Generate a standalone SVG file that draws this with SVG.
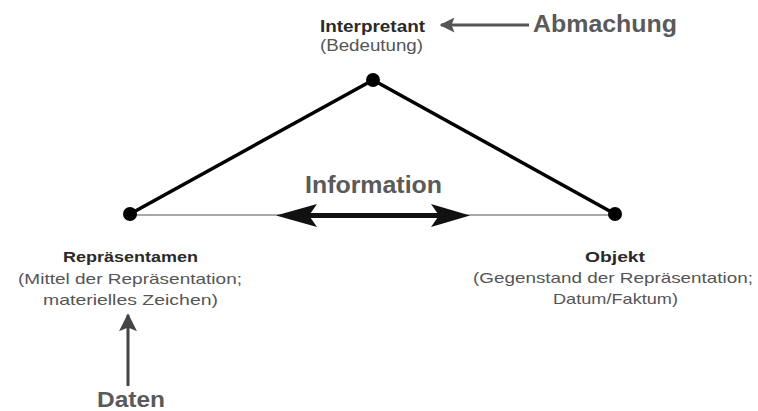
<svg xmlns="http://www.w3.org/2000/svg" width="758" height="411" viewBox="0 0 758 411">
<style>
text{font-family:"Liberation Sans",Arial,sans-serif;text-anchor:middle}
.lbl{font-weight:bold;fill:#2a2a2a}
.sub{fill:#555}
.big{font-weight:bold;fill:#5a5a5a}
.dot{fill:#000}
</style>
<defs>
<marker id="hGrey" viewBox="0 0 10 10" refX="9" refY="5" markerWidth="5" markerHeight="5" orient="auto" markerUnits="strokeWidth">
<path d="M0,0 L10,5 L0,10 L2,5 Z" fill="#555"/>
</marker>
<marker id="hDark" viewBox="0 0 10 10" refX="9" refY="5" markerWidth="6" markerHeight="6" orient="auto" markerUnits="strokeWidth">
<path d="M0,0 L10,5 L0,10 L2,5 Z" fill="#444"/>
</marker>
</defs>
<rect width="758" height="411" fill="#fff"/>
<g id="connectors">
<line x1="130" y1="215" x2="615" y2="215" stroke="#a8a8a8" stroke-width="2"/>
<polyline points="130,214 373,80 615,214" fill="none" stroke="#000" stroke-width="3.5" stroke-linejoin="round"/>
<line x1="305" y1="215.5" x2="440" y2="215.5" stroke="#111" stroke-width="5"/>
<path d="M276,215.5 L317,204 L309,215.5 L317,227 Z" fill="#111"/>
<path d="M470,215.5 L431,204 L439,215.5 L431,227 Z" fill="#111"/>
<line x1="529" y1="25" x2="441" y2="25" stroke="#555" stroke-width="3" marker-end="url(#hGrey)"/>
<line x1="128" y1="386" x2="128" y2="315" stroke="#444" stroke-width="3" marker-end="url(#hDark)"/>
</g>
<g id="interpretant">
<circle class="dot" cx="373" cy="80" r="7"/>
<text class="lbl" x="372.5" y="32" font-size="16" textLength="105" lengthAdjust="spacingAndGlyphs">Interpretant</text>
<text class="sub" x="371.5" y="51" font-size="16" textLength="103" lengthAdjust="spacingAndGlyphs">(Bedeutung)</text>
</g>
<g id="abmachung">
<text class="big" x="605" y="32" font-size="23" textLength="144" lengthAdjust="spacingAndGlyphs">Abmachung</text>
</g>
<g id="information">
<text class="big" x="373.5" y="193" font-size="23" textLength="137" lengthAdjust="spacingAndGlyphs">Information</text>
</g>
<g id="repraesentamen">
<circle class="dot" cx="130" cy="214" r="7"/>
<text class="lbl" x="130.5" y="262" font-size="15" textLength="135" lengthAdjust="spacingAndGlyphs">Repräsentamen</text>
<text class="sub" x="130" y="283.5" font-size="15" textLength="224" lengthAdjust="spacingAndGlyphs">(Mittel der Repräsentation;</text>
<text class="sub" x="130.5" y="305" font-size="15" textLength="175" lengthAdjust="spacingAndGlyphs">materielles Zeichen)</text>
</g>
<g id="objekt">
<circle class="dot" cx="615" cy="214" r="7"/>
<text class="lbl" x="615" y="262" font-size="15" textLength="60" lengthAdjust="spacingAndGlyphs">Objekt</text>
<text class="sub" x="613" y="283" font-size="15" textLength="280" lengthAdjust="spacingAndGlyphs">(Gegenstand der Repräsentation;</text>
<text class="sub" x="615.5" y="304" font-size="15" textLength="125" lengthAdjust="spacingAndGlyphs">Datum/Faktum)</text>
</g>
<g id="daten">
<text class="big" x="131" y="407" font-size="22" textLength="68" lengthAdjust="spacingAndGlyphs" fill="#4a4a4a">Daten</text>
</g>
</svg>
